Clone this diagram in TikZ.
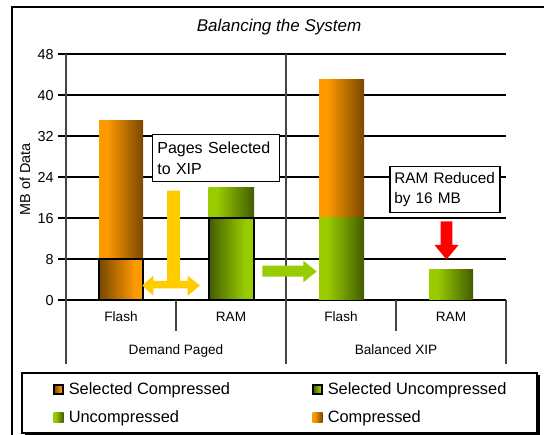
\documentclass[tikz,border=0pt]{standalone}
\usepackage{fontspec}
\setmainfont{Liberation Sans}

\definecolor{orL}{RGB}{255,153,0}
\definecolor{orD}{RGB}{120,72,0}
\definecolor{grL}{RGB}{153,204,0}
\definecolor{grD}{RGB}{66,92,0}
\definecolor{yel}{RGB}{255,204,0}
\definecolor{arrgreen}{RGB}{153,204,0}
\definecolor{axgray}{RGB}{70,70,70}

% bar fills: light on the left fading to dark, and the reverse
\pgfdeclarehorizontalshading{orangefade}{100bp}{color(0bp)=(orL); color(34bp)=(orL); color(75bp)=(orD); color(100bp)=(orD)}
\pgfdeclarehorizontalshading{orangerise}{100bp}{color(0bp)=(orD); color(25bp)=(orD); color(66bp)=(orL); color(100bp)=(orL)}
\pgfdeclarehorizontalshading{greenfade}{100bp}{color(0bp)=(grL); color(34bp)=(grL); color(75bp)=(grD); color(100bp)=(grD)}
\pgfdeclarehorizontalshading{greenrise}{100bp}{color(0bp)=(grD); color(25bp)=(grD); color(66bp)=(grL); color(100bp)=(grL)}

\begin{document}
\begin{tikzpicture}[x=0.75pt,y=-0.75pt,
  gridline/.style={black, line width=0.8pt},
  axisline/.style={axgray, line width=1.1pt},
  selframe/.style={draw=black, line width=1.5pt},
  ticklbl/.style={inner sep=0pt, anchor=base east, font=\fontsize{10.8}{13}\selectfont},
  catlbl/.style={inner sep=0pt, anchor=base, font=\fontsize{10.2}{12}\selectfont},
  legtxt/.style={inner sep=0pt, anchor=base west, font=\fontsize{12.3}{14}\selectfont},
  callout/.style={draw=black, line width=0.8pt, fill=white, align=left, inner ysep=0pt},
]
\useasboundingbox (0,0) rectangle (544,435);
\clip (0,0) rectangle (544,435);
\fill[white] (0,0) rectangle (544,435);

% outer chart frame
\draw[line width=1.3pt] (12,7) rectangle (620,520);

% title
\node[inner sep=0pt, anchor=base, font=\itshape\fontsize{12.75}{15}\selectfont] (title) at (279,32) {Balancing the System};

% value axis: grid lines, ticks and labels
\foreach \v in {0,8,...,48} {
  \draw[gridline] (58,{300-5.125*\v}) -- (506,{300-5.125*\v});
  \node[ticklbl] (tick\v) at (54,{305.2-5.125*\v}) {\v};
}
\node[rotate=90, inner sep=0pt, font=\fontsize{10.8}{13}\selectfont] (ylabel) at (25,179) {MB of Data};

% axis and category dividers
\draw[axisline] (66,54) -- (66,364);
\draw[axisline] (286,54) -- (286,364);
\draw[axisline] (506,300) -- (506,364);
\draw[axisline] (176,300) -- (176,331);
\draw[axisline] (396,300) -- (396,331);

% category labels
\node[catlbl] (flashA) at (121,322) {Flash};
\node[catlbl] (ramA) at (231,322) {RAM};
\node[catlbl] (flashB) at (341,322) {Flash};
\node[catlbl] (ramB) at (451,322) {RAM};
\node[catlbl] (demand) at (176,354.5) {Demand Paged};
\node[catlbl] (balanced) at (396,354.5) {Balanced XIP};

% Demand Paged: Flash
\path[shading=orangefade] (99,120.6) rectangle (143,259);
\path[shading=orangerise, selframe] (99,259) rectangle (143,300);
% Demand Paged: RAM
\path[shading=greenfade] (208.5,187.25) rectangle (254,218);
\path[shading=greenrise, selframe] (208.5,218) rectangle (254,300);
% Balanced XIP: Flash
\path[shading=orangefade] (319,79.6) rectangle (364,218);
\path[shading=greenfade] (319,218) rectangle (364,300);
% Balanced XIP: RAM
\path[shading=greenfade] (429,269.25) rectangle (473,300);

% yellow exchange arrow
\fill[yel] (167,190.7) -- (180,190.7) -- (180,281) -- (187.7,281) -- (187.7,275.7)
  -- (200,285.5) -- (187.7,295.7) -- (187.7,288.5) -- (153.3,288.5) -- (153.3,295.7)
  -- (142.3,285.5) -- (153.3,275.7) -- (153.3,281) -- (167,281) -- cycle;

% green shift arrow
\fill[arrgreen] (262.3,265.7) -- (303.3,265.7) -- (303.3,260.7) -- (316.7,271.5)
  -- (303.3,282.3) -- (303.3,276.7) -- (262.3,276.7) -- cycle;

% red reduction arrow
\fill[red] (440.7,221.5) -- (452.3,221.5) -- (452.3,245) -- (458.5,245)
  -- (446.5,259.5) -- (434.5,245) -- (440.7,245) -- cycle;

% callouts
\node[callout, font=\fontsize{12}{15.75}\selectfont, inner xsep=3.45pt, text width=88pt,
  minimum width=95pt, minimum height=35.5pt] (pages) at (216,158) {\mbox{Pages Selected}\\\mbox{to XIP}};
\node[callout, font=\fontsize{11.5}{15}\selectfont, inner xsep=3pt, text width=76pt,
  minimum width=82.5pt, minimum height=34.5pt] (reduced) at (445,189.7) {\mbox{RAM Reduced}\\\mbox{by 16 MB}};

% legend
\fill[black] (24.5,375.5) rectangle (540,436);
\draw[line width=0.8pt, fill=white] (22,373) rectangle (537,433);
\path[shading=orangerise, selframe] (54,385.5) rectangle (63,394.5);
\path[shading=greenrise, selframe] (313,385.5) rectangle (322,394.5);
\path[shading=greenfade] (53.5,413) rectangle (63.5,423);
\path[shading=orangefade] (312.5,413) rectangle (322.5,423);
\node[legtxt] (legSC) at (68.5,394.5) {Selected Compressed};
\node[legtxt] (legSU) at (327.5,394.5) {Selected Uncompressed};
\node[legtxt] (legU) at (68.5,423) {Uncompressed};
\node[legtxt] (legC) at (327.5,423) {Compressed};
\end{tikzpicture}
\end{document}
